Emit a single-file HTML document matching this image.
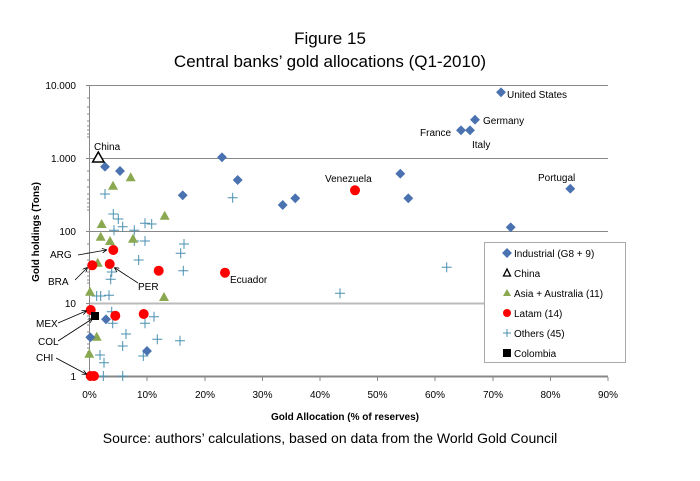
<!DOCTYPE html>
<html><head><meta charset="utf-8"><style>body{margin:0;background:#fff}svg{display:block}text{font-family:"Liberation Sans",sans-serif}</style></head><body>
<svg width="700" height="481" viewBox="0 0 700 481">
<defs>
<marker id="ah" markerWidth="6" markerHeight="6" refX="5" refY="3" orient="auto"><path d="M0,0 L6,3 L0,6" fill="none" stroke="#000" stroke-width="1"/></marker>
<g id="d"><rect x="-3.5" y="-3.5" width="7" height="7" fill="#4a72b0" transform="rotate(45)"/></g>
<g id="t"><polygon points="0,-5 5,4 -5,4" fill="#8aa84f"/></g>
<g id="c"><circle r="5" fill="#f00"/></g>
<g id="p"><path d="M-5,0H5M0,-5V5" stroke="#4a90b0" stroke-width="1"/></g>
</defs>
<text x="330" y="44" font-size="17" text-anchor="middle">Figure 15</text>
<text x="330" y="67" font-size="17" text-anchor="middle">Central banks’ gold allocations (Q1-2010)</text>
<g stroke="#888" stroke-width="1">
<line x1="90" y1="85.5" x2="608" y2="85.5"/>
<line x1="90" y1="158.5" x2="608" y2="158.5"/>
<line x1="90" y1="231.5" x2="608" y2="231.5"/>
<line x1="90" y1="303.5" x2="608" y2="303.5" stroke="#bbb" stroke-width="2"/>
<line x1="89.5" y1="85" x2="89.5" y2="377"/>
<line x1="89" y1="376.5" x2="608" y2="376.5" stroke-width="2"/>
</g>
<g stroke="#888" stroke-width="1">
<path d="M86,85.5h4M86,158.5h4M86,231.5h4M86,303.5h4M86,376.5h4"/>
<path d="M87,98h3M87,107h3M87,114h3M87,121h3M87,126h3M87,130h3M87,134h3M87,137h3M87,171h3M87,180h3M87,187h3M87,194h3M87,199h3M87,203h3M87,207h3M87,210h3M87,244h3M87,253h3M87,260h3M87,266h3M87,272h3M87,276h3M87,280h3M87,283h3M87,316h3M87,325h3M87,332h3M87,339h3M87,344h3M87,348h3M87,352h3M87,355h3"/>
<path d="M89.5,377v4M147,377v4M205,377v4M262.5,377v4M320,377v4M377.5,377v4M435,377v4M493,377v4M550.5,377v4M608,377v4"/>
</g>
<g font-size="10" text-anchor="end">
<text x="76" y="89">10.000</text><text x="76" y="162">1.000</text><text x="76" y="235">100</text><text x="76" y="307">10</text><text x="76" y="380">1</text>
</g>
<g font-size="10" text-anchor="middle">
<text x="89.5" y="398">0%</text><text x="147" y="398">10%</text><text x="205" y="398">20%</text><text x="262.5" y="398">30%</text><text x="320" y="398">40%</text><text x="377.5" y="398">50%</text><text x="435" y="398">60%</text><text x="493" y="398">70%</text><text x="550.5" y="398">80%</text><text x="608" y="398">90%</text>
</g>
<text x="345" y="420" font-size="10" font-weight="bold" text-anchor="middle">Gold Allocation (% of reserves)</text>
<text transform="translate(39,232) rotate(-90)" font-size="10" font-weight="bold" text-anchor="middle">Gold holdings (Tons)</text>
<text x="330" y="443" font-size="14" text-anchor="middle">Source: authors’ calculations, based on data from the World Gold Council</text>
<!-- others -->
<g>
<use href="#p" x="105" y="194"/><use href="#p" x="113.3" y="214"/><use href="#p" x="118.3" y="219"/><use href="#p" x="122.7" y="226.7"/><use href="#p" x="114" y="230.3"/><use href="#p" x="134.3" y="230.3"/><use href="#p" x="145" y="223.3"/><use href="#p" x="151.7" y="224"/><use href="#p" x="134.3" y="241"/><use href="#p" x="145" y="241"/><use href="#p" x="184" y="244"/><use href="#p" x="180.7" y="253.3"/><use href="#p" x="138.7" y="260"/><use href="#p" x="111.7" y="272"/><use href="#p" x="110.7" y="279.3"/><use href="#p" x="183.3" y="270.7"/><use href="#p" x="96.7" y="296"/><use href="#p" x="100.7" y="296"/><use href="#p" x="109" y="295.3"/><use href="#p" x="232.7" y="197.7"/><use href="#p" x="340" y="293.3"/><use href="#p" x="111.7" y="311.7"/><use href="#p" x="112.7" y="323.3"/><use href="#p" x="154" y="316.7"/><use href="#p" x="145" y="323.3"/><use href="#p" x="126" y="334"/><use href="#p" x="157.3" y="339.3"/><use href="#p" x="180" y="340.7"/><use href="#p" x="122.7" y="346"/><use href="#p" x="100" y="355"/><use href="#p" x="104" y="362.7"/><use href="#p" x="143.3" y="356"/><use href="#p" x="103.3" y="376"/><use href="#p" x="122.7" y="376"/><use href="#p" x="446.7" y="267.3"/>
</g>
<g>
<use href="#t" x="130.7" y="177.3"/><use href="#t" x="113" y="185.7"/><use href="#t" x="164.7" y="215.7"/><use href="#t" x="101.7" y="224"/><use href="#t" x="100.7" y="236.7"/><use href="#t" x="110" y="241"/><use href="#t" x="133" y="238.7"/><use href="#t" x="97.7" y="262.7"/><use href="#t" x="90" y="291.7"/><use href="#t" x="164" y="297"/><use href="#t" x="96.7" y="336.7"/><use href="#t" x="89.3" y="353.7"/>
</g>
<g>
<use href="#d" x="105" y="166.7"/><use href="#d" x="120" y="171"/><use href="#d" x="222" y="157.3"/><use href="#d" x="237.7" y="180"/><use href="#d" x="182.7" y="195.3"/><use href="#d" x="282.7" y="205"/><use href="#d" x="295.3" y="198.3"/><use href="#d" x="147" y="351"/><use href="#d" x="90.3" y="337.3"/><use href="#d" x="106" y="319.3"/>
<use href="#d" x="501" y="92.3"/><use href="#d" x="475" y="119.7"/><use href="#d" x="461" y="130.3"/><use href="#d" x="470" y="130.3"/><use href="#d" x="400.3" y="173.7"/><use href="#d" x="408.3" y="198.3"/><use href="#d" x="570.3" y="188.7"/><use href="#d" x="510.7" y="227.3"/>
</g>
<g>
<use href="#c" x="113.3" y="250"/><use href="#c" x="92.3" y="265.3"/><use href="#c" x="109.7" y="264"/><use href="#c" x="158.7" y="270.7"/><use href="#c" x="225" y="272.7"/><use href="#c" x="90.7" y="310"/><use href="#c" x="115.3" y="315.7"/><use href="#c" x="143.7" y="314"/><use href="#c" x="90.7" y="376"/><use href="#c" x="94" y="376"/><use href="#c" x="355" y="190.3"/>
</g>
<polygon points="98.3,152 104,162 92.6,162" fill="#fff" stroke="#000" stroke-width="1.5"/>
<rect x="91" y="312" width="8" height="8" fill="#000"/>
<g stroke="#000" stroke-width="0.8" fill="none" marker-end="url(#ah)">
<line x1="78" y1="255" x2="106" y2="250"/>
<line x1="75" y1="280" x2="87" y2="268"/>
<line x1="138" y1="283" x2="115" y2="268"/>
<line x1="58" y1="323" x2="86" y2="311"/>
<line x1="58" y1="341" x2="92" y2="319"/>
<line x1="56" y1="358" x2="86" y2="374"/>
</g>
<g font-size="10">
<text x="94" y="150">China</text>
<text x="50" y="258">ARG</text><text x="48" y="285">BRA</text><text x="138" y="290">PER</text>
<text x="36" y="327">MEX</text><text x="38" y="345">COL</text><text x="36" y="361">CHI</text>
<text x="230" y="283">Ecuador</text><text x="325" y="182">Venezuela</text>
<text x="507" y="98">United States</text><text x="483" y="124">Germany</text><text x="420" y="136">France</text><text x="472" y="148">Italy</text><text x="538" y="181">Portugal</text>
</g>
<rect x="484.5" y="242.5" width="141" height="120" fill="#fff" stroke="#aaa"/>
<g font-size="10">
<use href="#d" x="507" y="253"/><text x="514" y="257">Industrial (G8 + 9)</text>
<polygon points="507,269 510.5,276 503.5,276" fill="#fff" stroke="#000" stroke-width="1.3"/><text x="514" y="277">China</text>
<polygon points="507,289 511,296 503,296" fill="#8aa84f"/><text x="514" y="297">Asia + Australia (11)</text>
<circle cx="507" cy="313" r="4" fill="#f00"/><text x="514" y="317">Latam (14)</text>
<path d="M503,333h8M507,329v8" stroke="#4a90b0"/><text x="514" y="337">Others (45)</text>
<rect x="503" y="349" width="8" height="8" fill="#000"/><text x="514" y="357">Colombia</text>
</g>
</svg>
</body></html>
